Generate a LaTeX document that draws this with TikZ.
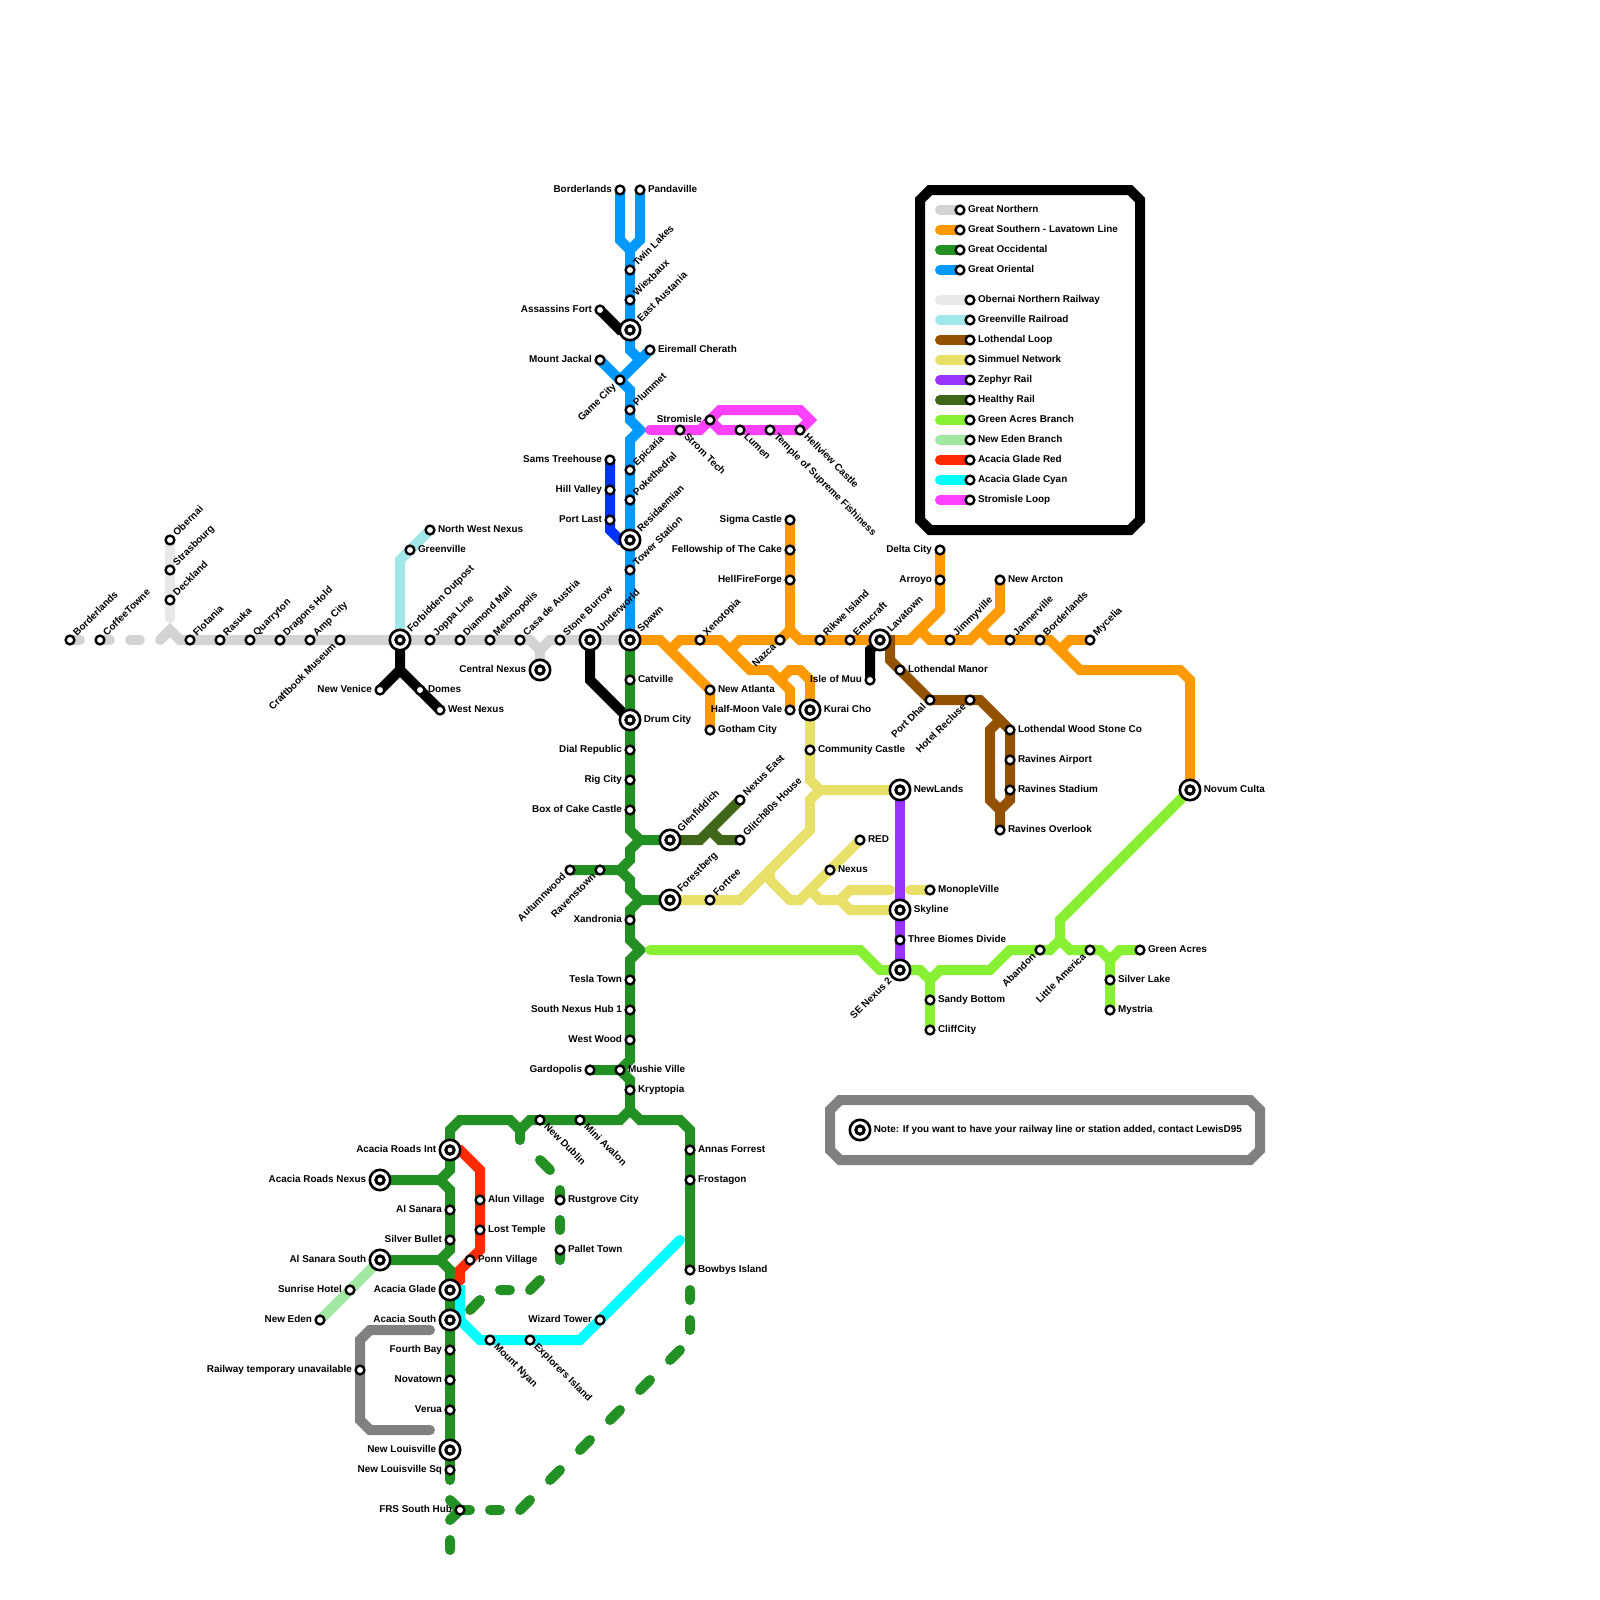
\documentclass[tikz,border=0pt]{standalone}
\usepackage{fontspec}
\setmainfont{Liberation Sans}
\usetikzlibrary{
  positioning,
  backgrounds,
}
\definecolor{northern}{RGB}{211,211,211}
\definecolor{southern}{RGB}{255,153,0}
\definecolor{occidental}{RGB}{34,144,34}
\definecolor{oriental}{RGB}{0,153,255}
\definecolor{obernai}{RGB}{232,232,232}
\definecolor{greenville}{RGB}{160,232,232}
\definecolor{lothendal}{RGB}{148,82,0}
\definecolor{simmuel}{RGB}{232,224,104}
\definecolor{zephyr}{RGB}{153,51,255}
\definecolor{healthy}{RGB}{64,102,24}
\definecolor{greenacres}{RGB}{136,240,51}
\definecolor{neweden}{RGB}{160,232,160}
\definecolor{acaciared}{RGB}{255,42,0}
\definecolor{acaciacyan}{RGB}{0,255,255}
\definecolor{stromisle}{RGB}{255,64,255}
\definecolor{portlast}{RGB}{0,51,255}
\definecolor{framegrey}{RGB}{128,128,128}
\newcommand{\labfont}{\fontsize{4.96}{6}\selectfont\bfseries}
\tikzset{
  stn/.style={
    circle, draw=black, fill=white, line width=1.2pt,
    minimum size=4.4pt, inner sep=0pt, outer sep=0pt
  },
  hub/.style={
    stn, line width=1.3pt, minimum size=10.2pt,
    path picture={\draw[line width=1.5pt, fill=white]
      (path picture bounding box.center) circle (2.1pt);}
  },
  lab/.style={font=\labfont, inner sep=0pt, text height=3.6pt, text depth=1pt},
  labE/.style={lab, right=1.6pt of #1},
  labW/.style={lab, left=1.6pt of #1},
  labNE/.style={lab, inner xsep=1.4pt, rotate=45, anchor=west, at={(#1.45)}},
  labSW/.style={lab, inner xsep=1.4pt, rotate=45, anchor=east, at={(#1.225)}},
  labSE/.style={lab, inner xsep=1.4pt, rotate=-45, anchor=west, at={(#1.-45)}},
  railway/.style={line width=5pt, line cap=round, line join=miter},
}

\begin{document}
\begin{tikzpicture}[x=0.5pt, y=-0.5pt]

  \path[use as bounding box] (0,0) rectangle (1600,1600);

  % ── Great Northern, west to east ──
  \node[stn] (borderlandsW) at (70,640) {};   \node[labNE=borderlandsW] (borderlandsWL) {Borderlands};
  \node[stn] (coffeetowne) at (100,640) {};   \node[labNE=coffeetowne] (coffeetowneL) {CoffeeTowne};
  \node[stn] (flotania) at (190,640) {};      \node[labNE=flotania] (flotaniaL) {Flotania};
  \node[stn] (rasuka) at (220,640) {};        \node[labNE=rasuka] (rasukaL) {Rasuka};
  \node[stn] (quarryton) at (250,640) {};     \node[labNE=quarryton] (quarrytonL) {Quarryton};
  \node[stn] (dragonshold) at (280,640) {};   \node[labNE=dragonshold] (dragonsholdL) {Dragons Hold};
  \node[stn] (ampcity) at (310,640) {};       \node[labNE=ampcity] (ampcityL) {Amp City};
  \node[stn] (craftbook) at (340,640) {};     \node[labSW=craftbook] (craftbookL) {Craftbook Museum};
  \node[hub] (forbidden) at (400,640) {};     \node[labNE=forbidden] (forbiddenL) {Forbidden Outpost};
  \node[stn] (joppa) at (430,640) {};         \node[labNE=joppa] (joppaL) {Joppa Line};
  \node[stn] (diamond) at (460,640) {};       \node[labNE=diamond] (diamondL) {Diamond Mall};
  \node[stn] (melonopolis) at (490,640) {};   \node[labNE=melonopolis] (melonopolisL) {Melonopolis};
  \node[stn] (casa) at (520,640) {};          \node[labNE=casa] (casaL) {Casa de Austria};
  \node[hub] (centralnexus) at (540,670) {};  \node[labW=centralnexus] (centralnexusL) {Central Nexus};
  \node[stn] (stoneburrow) at (560,640) {};   \node[labNE=stoneburrow] (stoneburrowL) {Stone Burrow};
  \node[hub] (underworld) at (590,640) {};    \node[labNE=underworld] (underworldL) {Underworld};
  \node[hub] (spawn) at (630,640) {};         \node[labNE=spawn] (spawnL) {Spawn};

  % ── Obernai, Greenville and the black branches ──
  \node[stn] (obernaiS) at (170,540) {};      \node[labNE=obernaiS] (obernaiSL) {Obernai};
  \node[stn] (strasbourg) at (170,570) {};    \node[labNE=strasbourg] (strasbourgL) {Strasbourg};
  \node[stn] (deckland) at (170,600) {};      \node[labNE=deckland] (decklandL) {Deckland};
  \node[stn] (nwnexus) at (430,530) {};       \node[labE=nwnexus] (nwnexusL) {North West Nexus};
  \node[stn] (greenvilleS) at (410,550) {};   \node[labE=greenvilleS] (greenvilleSL) {Greenville};
  \node[stn] (newvenice) at (380,690) {};     \node[labW=newvenice] (newveniceL) {New Venice};
  \node[stn] (domes) at (420,690) {};         \node[labE=domes] (domesL) {Domes};
  \node[stn] (westnexus) at (440,710) {};     \node[labE=westnexus] (westnexusL) {West Nexus};

  % ── Great Oriental ──
  \node[stn] (borderlandsN) at (620,190) {};  \node[labW=borderlandsN] (borderlandsNL) {Borderlands};
  \node[stn] (pandaville) at (640,190) {};    \node[labE=pandaville] (pandavilleL) {Pandaville};
  \node[stn] (twinlakes) at (630,270) {};     \node[labNE=twinlakes] (twinlakesL) {Twin Lakes};
  \node[stn] (wiexbaux) at (630,300) {};      \node[labNE=wiexbaux] (wiexbauxL) {Wiexbaux};
  \node[stn] (assassins) at (600,310) {};     \node[labW=assassins] (assassinsL) {Assassins Fort};
  \node[hub] (austania) at (630,330) {};      \node[labNE=austania] (austaniaL) {East Austania};
  \node[stn] (eiremall) at (650,350) {};      \node[labE=eiremall] (eiremallL) {Eiremall Cherath};
  \node[stn] (jackal) at (600,360) {};        \node[labW=jackal] (jackalL) {Mount Jackal};
  \node[stn] (gamecity) at (620,380) {};      \node[labSW=gamecity] (gamecityL) {Game City};
  \node[stn] (plummet) at (630,410) {};       \node[labNE=plummet] (plummetL) {Plummet};
  \node[stn] (epicaria) at (630,470) {};      \node[labNE=epicaria] (epicariaL) {Epicaria};
  \node[stn] (pokethedral) at (630,500) {};   \node[labNE=pokethedral] (pokethedralL) {Pokethedral};
  \node[hub] (residaemian) at (630,540) {};   \node[labNE=residaemian] (residaemianL) {Residaemian};
  \node[stn] (tower) at (630,570) {};         \node[labNE=tower] (towerL) {Tower Station};
  \node[stn] (sams) at (610,460) {};          \node[labW=sams] (samsL) {Sams Treehouse};
  \node[stn] (hillvalley) at (610,490) {};    \node[labW=hillvalley] (hillvalleyL) {Hill Valley};
  \node[stn] (portlastS) at (610,520) {};     \node[labW=portlastS] (portlastSL) {Port Last};

  % ── Stromisle Loop ──
  \node[stn] (stromtech) at (680,430) {};     \node[labSE=stromtech] (stromtechL) {Strom Tech};
  \node[stn] (stromisleS) at (710,420) {};    \node[labW=stromisleS] (stromisleSL) {Stromisle};
  \node[stn] (lumen) at (740,430) {};         \node[labSE=lumen] (lumenL) {Lumen};
  \node[stn] (temple) at (770,430) {};        \node[labSE=temple] (templeL) {Temple of Supreme Fishiness};
  \node[stn] (hellview) at (800,430) {};      \node[labSE=hellview] (hellviewL) {Hellview Castle};

  % ── Great Southern ──
  \node[stn] (sigma) at (790,520) {};         \node[labW=sigma] (sigmaL) {Sigma Castle};
  \node[stn] (fellowship) at (790,550) {};    \node[labW=fellowship] (fellowshipL) {Fellowship of The Cake};
  \node[stn] (hellfire) at (790,580) {};      \node[labW=hellfire] (hellfireL) {HellFireForge};
  \node[stn] (xenotopia) at (700,640) {};     \node[labNE=xenotopia] (xenotopiaL) {Xenotopia};
  \node[stn] (nazca) at (780,640) {};         \node[labSW=nazca] (nazcaL) {Nazca};
  \node[stn] (rikwe) at (820,640) {};         \node[labNE=rikwe] (rikweL) {Rikwe Island};
  \node[stn] (emucraft) at (850,640) {};      \node[labNE=emucraft] (emucraftL) {Emucraft};
  \node[hub] (lavatown) at (880,640) {};      \node[labNE=lavatown] (lavatownL) {Lavatown};
  \node[stn] (newatlanta) at (710,690) {};    \node[labE=newatlanta] (newatlantaL) {New Atlanta};
  \node[stn] (gotham) at (710,730) {};        \node[labE=gotham] (gothamL) {Gotham City};
  \node[stn] (halfmoon) at (790,710) {};      \node[labW=halfmoon] (halfmoonL) {Half-Moon Vale};
  \node[hub] (kurai) at (810,710) {};         \node[labE=kurai] (kuraiL) {Kurai Cho};
  \node[stn] (delta) at (940,550) {};         \node[labW=delta] (deltaL) {Delta City};
  \node[stn] (arroyo) at (940,580) {};        \node[labW=arroyo] (arroyoL) {Arroyo};
  \node[stn] (newarcton) at (1000,580) {};    \node[labE=newarcton] (newarctonL) {New Arcton};
  \node[stn] (jimmyville) at (950,640) {};    \node[labNE=jimmyville] (jimmyvilleL) {Jimmyville};
  \node[stn] (jannerville) at (1010,640) {};  \node[labNE=jannerville] (jannervilleL) {Jannerville};
  \node[stn] (borderlandsE) at (1040,640) {}; \node[labNE=borderlandsE] (borderlandsEL) {Borderlands};
  \node[stn] (mycelia) at (1090,640) {};      \node[labNE=mycelia] (myceliaL) {Mycelia};
  \node[hub] (novum) at (1190,790) {};        \node[labE=novum] (novumL) {Novum Culta};

  % ── Lothendal Loop and Isle of Muu ──
  \node[stn] (muu) at (870,680) {};           \node[labW=muu] (muuL) {Isle of Muu};
  \node[stn] (manor) at (900,670) {};         \node[labE=manor] (manorL) {Lothendal Manor};
  \node[stn] (portdhal) at (930,700) {};      \node[labSW=portdhal] (portdhalL) {Port Dhal};
  \node[stn] (recluse) at (970,700) {};       \node[labSW=recluse] (recluseL) {Hotel Recluse};
  \node[stn] (woodstone) at (1010,730) {};    \node[labE=woodstone] (woodstoneL) {Lothendal Wood Stone Co};
  \node[stn] (airport) at (1010,760) {};      \node[labE=airport] (airportL) {Ravines Airport};
  \node[stn] (stadium) at (1010,790) {};      \node[labE=stadium] (stadiumL) {Ravines Stadium};
  \node[stn] (overlook) at (1000,830) {};     \node[labE=overlook] (overlookL) {Ravines Overlook};

  % ── Great Occidental, north part ──
  \node[stn] (catville) at (630,680) {};      \node[labE=catville] (catvilleL) {Catville};
  \node[hub] (drumcity) at (630,720) {};      \node[labE=drumcity] (drumcityL) {Drum City};
  \node[stn] (dial) at (630,750) {};          \node[labW=dial] (dialL) {Dial Republic};
  \node[stn] (rigcity) at (630,780) {};       \node[labW=rigcity] (rigcityL) {Rig City};
  \node[stn] (boxcake) at (630,810) {};       \node[labW=boxcake] (boxcakeL) {Box of Cake Castle};
  \node[hub] (glenfiddich) at (670,840) {};   \node[labNE=glenfiddich] (glenfiddichL) {Glenfiddich};
  \node[stn] (autumnwood) at (570,870) {};    \node[labSW=autumnwood] (autumnwoodL) {Autumnwood};
  \node[stn] (ravenstown) at (600,870) {};    \node[labSW=ravenstown] (ravenstownL) {Ravenstown};
  \node[hub] (forestberg) at (670,900) {};    \node[labNE=forestberg] (forestbergL) {Forestberg};
  \node[stn] (xandronia) at (630,920) {};     \node[labW=xandronia] (xandroniaL) {Xandronia};
  \node[stn] (tesla) at (630,980) {};         \node[labW=tesla] (teslaL) {Tesla Town};
  \node[stn] (southnexus) at (630,1010) {};   \node[labW=southnexus] (southnexusL) {South Nexus Hub 1};
  \node[stn] (westwood) at (630,1040) {};     \node[labW=westwood] (westwoodL) {West Wood};
  \node[stn] (gardopolis) at (590,1070) {};   \node[labW=gardopolis] (gardopolisL) {Gardopolis};
  \node[stn] (mushie) at (620,1070) {};       \node[labE=mushie] (mushieL) {Mushie Ville};
  \node[stn] (kryptopia) at (630,1090) {};    \node[labE=kryptopia] (kryptopiaL) {Kryptopia};

  % ── Healthy Rail and Simmuel Network ──
  \node[stn] (nexuseast) at (740,800) {};     \node[labNE=nexuseast] (nexuseastL) {Nexus East};
  \node[stn] (glitch) at (740,840) {};        \node[labNE=glitch] (glitchL) {Glitch80s House};
  \node[stn] (community) at (810,750) {};     \node[labE=community] (communityL) {Community Castle};
  \node[hub] (newlands) at (900,790) {};      \node[labE=newlands] (newlandsL) {NewLands};
  \node[stn] (fortree) at (710,900) {};       \node[labNE=fortree] (fortreeL) {Fortree};
  \node[stn] (red) at (860,840) {};           \node[labE=red] (redL) {RED};
  \node[stn] (nexus) at (830,870) {};         \node[labE=nexus] (nexusL) {Nexus};
  \node[stn] (monople) at (930,890) {};       \node[labE=monople] (monopleL) {MonopleVille};
  \node[hub] (skyline) at (900,910) {};       \node[labE=skyline] (skylineL) {Skyline};
  \node[stn] (threebiomes) at (900,940) {};   \node[labE=threebiomes] (threebiomesL) {Three Biomes Divide};
  \node[hub] (senexus) at (900,970) {};       \node[labSW=senexus] (senexusL) {SE Nexus 2};

  % ── Green Acres Branch ──
  \node[stn] (sandy) at (930,1000) {};        \node[labE=sandy] (sandyL) {Sandy Bottom};
  \node[stn] (cliffcity) at (930,1030) {};    \node[labE=cliffcity] (cliffcityL) {CliffCity};
  \node[stn] (abandon) at (1040,950) {};      \node[labSW=abandon] (abandonL) {Abandon};
  \node[stn] (littleamerica) at (1090,950) {};\node[labSW=littleamerica] (littleamericaL) {Little America};
  \node[stn] (greenacresS) at (1140,950) {};  \node[labE=greenacresS] (greenacresSL) {Green Acres};
  \node[stn] (silverlake) at (1110,980) {};   \node[labE=silverlake] (silverlakeL) {Silver Lake};
  \node[stn] (mystria) at (1110,1010) {};     \node[labE=mystria] (mystriaL) {Mystria};

  % ── Great Occidental, south part ──
  \node[stn] (newdublin) at (540,1120) {};    \node[labSE=newdublin] (newdublinL) {New Dublin};
  \node[stn] (miniavalon) at (580,1120) {};   \node[labSE=miniavalon] (miniavalonL) {Mini Avalon};
  \node[stn] (annas) at (690,1150) {};        \node[labE=annas] (annasL) {Annas Forrest};
  \node[stn] (frostagon) at (690,1180) {};    \node[labE=frostagon] (frostagonL) {Frostagon};
  \node[stn] (bowbys) at (690,1270) {};       \node[labE=bowbys] (bowbysL) {Bowbys Island};
  \node[stn] (rustgrove) at (560,1200) {};    \node[labE=rustgrove] (rustgroveL) {Rustgrove City};
  \node[stn] (pallet) at (560,1250) {};       \node[labE=pallet] (palletL) {Pallet Town};
  \node[hub] (roadsint) at (450,1150) {};     \node[labW=roadsint] (roadsintL) {Acacia Roads Int};
  \node[hub] (roadsnexus) at (380,1180) {};   \node[labW=roadsnexus] (roadsnexusL) {Acacia Roads Nexus};
  \node[stn] (alsanara) at (450,1210) {};     \node[labW=alsanara] (alsanaraL) {Al Sanara};
  \node[stn] (silverbullet) at (450,1240) {}; \node[labW=silverbullet] (silverbulletL) {Silver Bullet};
  \node[hub] (sanarasouth) at (380,1260) {};  \node[labW=sanarasouth] (sanarasouthL) {Al Sanara South};
  \node[hub] (glade) at (450,1290) {};        \node[labW=glade] (gladeL) {Acacia Glade};
  \node[hub] (acaciasouth) at (450,1320) {};  \node[labW=acaciasouth] (acaciasouthL) {Acacia South};
  \node[stn] (fourthbay) at (450,1350) {};    \node[labW=fourthbay] (fourthbayL) {Fourth Bay};
  \node[stn] (novatown) at (450,1380) {};     \node[labW=novatown] (novatownL) {Novatown};
  \node[stn] (verua) at (450,1410) {};        \node[labW=verua] (veruaL) {Verua};
  \node[hub] (louisville) at (450,1450) {};   \node[labW=louisville] (louisvilleL) {New Louisville};
  \node[stn] (louisvillesq) at (450,1470) {}; \node[labW=louisvillesq] (louisvillesqL) {New Louisville Sq};
  \node[stn] (frs) at (460,1510) {};          \node[labW=frs] (frsL) {FRS South Hub};

  % ── Red, cyan, New Eden and the closed line ──
  \node[stn] (alun) at (480,1200) {};         \node[labE=alun] (alunL) {Alun Village};
  \node[stn] (losttemple) at (480,1230) {};   \node[labE=losttemple] (losttempleL) {Lost Temple};
  \node[stn] (ponn) at (470,1260) {};         \node[labE=ponn] (ponnL) {Ponn Village};
  \node[stn] (nyan) at (490,1340) {};         \node[labSE=nyan] (nyanL) {Mount Nyan};
  \node[stn] (explorers) at (530,1340) {};    \node[labSE=explorers] (explorersL) {Explorers Island};
  \node[stn] (wizard) at (600,1320) {};       \node[labW=wizard] (wizardL) {Wizard Tower};
  \node[stn] (sunrise) at (350,1290) {};      \node[labW=sunrise] (sunriseL) {Sunrise Hotel};
  \node[stn] (newedenS) at (320,1320) {};     \node[labW=newedenS] (newedenSL) {New Eden};
  \node[stn] (unavailable) at (360,1370) {};  \node[labW=unavailable] (unavailableL) {Railway temporary unavailable};

  % ── Legend ──
  \node[stn] (legNorthern) at (960,210) {};   \node[labE=legNorthern] (legNorthernL) {Great Northern};
  \node[stn] (legSouthern) at (960,230) {};   \node[labE=legSouthern] (legSouthernL) {Great Southern - Lavatown Line};
  \node[stn] (legOccidental) at (960,250) {}; \node[labE=legOccidental] (legOccidentalL) {Great Occidental};
  \node[stn] (legOriental) at (960,270) {};   \node[labE=legOriental] (legOrientalL) {Great Oriental};
  \node[stn] (legObernai) at (970,300) {};    \node[labE=legObernai] (legObernaiL) {Obernai Northern Railway};
  \node[stn] (legGreenville) at (970,320) {}; \node[labE=legGreenville] (legGreenvilleL) {Greenville Railroad};
  \node[stn] (legLothendal) at (970,340) {};  \node[labE=legLothendal] (legLothendalL) {Lothendal Loop};
  \node[stn] (legSimmuel) at (970,360) {};    \node[labE=legSimmuel] (legSimmuelL) {Simmuel Network};
  \node[stn] (legZephyr) at (970,380) {};     \node[labE=legZephyr] (legZephyrL) {Zephyr Rail};
  \node[stn] (legHealthy) at (970,400) {};    \node[labE=legHealthy] (legHealthyL) {Healthy Rail};
  \node[stn] (legAcres) at (970,420) {};      \node[labE=legAcres] (legAcresL) {Green Acres Branch};
  \node[stn] (legEden) at (970,440) {};       \node[labE=legEden] (legEdenL) {New Eden Branch};
  \node[stn] (legRed) at (970,460) {};        \node[labE=legRed] (legRedL) {Acacia Glade Red};
  \node[stn] (legCyan) at (970,480) {};       \node[labE=legCyan] (legCyanL) {Acacia Glade Cyan};
  \node[stn] (legStromisle) at (970,500) {};  \node[labE=legStromisle] (legStromisleL) {Stromisle Loop};

  % ── Note ──
  \node[hub] (noteHub) at (860,1130) {};
  \node[labE=noteHub] (noteL) {Note: If you want to have your railway line or station added, contact LewisD95};

  % ── Junctions ──
  \coordinate (jOrange1) at (670,650);
  \coordinate (jOrange2) at (730,650);
  \coordinate (jOrange3) at (780,680);
  \coordinate (jOrange4) at (790,630);
  \coordinate (jOrange5) at (920,630);
  \coordinate (jOrange6) at (980,630);
  \coordinate (jOrange7) at (1060,650);
  \coordinate (jOriental1) at (630,250);
  \coordinate (jOccGlen) at (640,840);
  \coordinate (jOccAutumn) at (620,870);
  \coordinate (jOccForest) at (640,900);
  \coordinate (jOccSouth) at (630,1110);
  \coordinate (jOccRoads) at (440,1180);
  \coordinate (jOccSanara) at (440,1260);
  \coordinate (jBlack) at (400,670);
  \coordinate (jGrey) at (540,650);
  \coordinate (jSim1) at (820,790);
  \coordinate (jSim2) at (770,870);
  \coordinate (jSim3) at (810,890);
  \coordinate (jSim4) at (840,900);
  \coordinate (jHealthy) at (710,830);
  \coordinate (jAcres1) at (930,980);
  \coordinate (jAcres2) at (1060,940);
  \coordinate (jAcres3) at (1110,960);
  \coordinate (jLoth1) at (1000,720);
  \coordinate (jLoth2) at (1000,810);

  \begin{scope}[on background layer]

    % ── Frames ──
    \draw[railway, black] (920,200) -- (930,190) -- (1130,190) -- (1140,200) -- (1140,520) -- (1130,530) -- (930,530) -- (920,520) -- cycle;
    \draw[railway, framegrey] (830,1110) -- (840,1100) -- (1250,1100) -- (1260,1110) -- (1260,1150) -- (1250,1160) -- (840,1160) -- (830,1150) -- cycle;

    % ── Legend stubs ──
    \draw[railway, northern] (legNorthern.center) -- ++(-20,0);
    \draw[railway, southern] (legSouthern.center) -- ++(-20,0);
    \draw[railway, occidental] (legOccidental.center) -- ++(-20,0);
    \draw[railway, oriental] (legOriental.center) -- ++(-20,0);
    \draw[railway, obernai] (legObernai.center) -- ++(-30,0);
    \draw[railway, greenville] (legGreenville.center) -- ++(-30,0);
    \draw[railway, lothendal] (legLothendal.center) -- ++(-30,0);
    \draw[railway, simmuel] (legSimmuel.center) -- ++(-30,0);
    \draw[railway, zephyr] (legZephyr.center) -- ++(-30,0);
    \draw[railway, healthy] (legHealthy.center) -- ++(-30,0);
    \draw[railway, greenacres] (legAcres.center) -- ++(-30,0);
    \draw[railway, neweden] (legEden.center) -- ++(-30,0);
    \draw[railway, acaciared] (legRed.center) -- ++(-30,0);
    \draw[railway, acaciacyan] (legCyan.center) -- ++(-30,0);
    \draw[railway, stromisle] (legStromisle.center) -- ++(-30,0);

    % ── Obernai and Greenville ──
    \draw[railway, obernai] (obernaiS.center) -- ++(0,78);
    \draw[railway, greenville] (forbidden.center) -- (400,560) -- (nwnexus.center);

    % ── Great Northern ──
    \draw[railway, northern, dash pattern=on 5pt off 10pt] (borderlandsW.center) -- ++(70,0);
    \draw[railway, northern] (160,640) -- (170,630) -- (180,640) -- (530,640) -- (jGrey) -- (550,640) -- (spawn.center);
    \draw[railway, northern] (jGrey) -- (centralnexus.center);

    % ── Black branches ──
    \draw[railway, black] (forbidden.center) -- (jBlack) -- (westnexus.center);
    \draw[railway, black] (jBlack) -- (newvenice.center);
    \draw[railway, black] (assassins.center) -- (620,330) -- (austania.center);
    \draw[railway, black] (underworld.center) -- (590,680) -- (drumcity.center);
    \draw[railway, black] (lavatown.center) -- (870,650) -- (muu.center);

    % ── Great Occidental ──
    \draw[railway, occidental] (spawn.center) -- (630,830) -- (jOccGlen) -- (glenfiddich.center);
    \draw[railway, occidental] (jOccGlen) -- (630,850) -- (630,860) -- (jOccAutumn) -- (autumnwood.center);
    \draw[railway, occidental] (jOccAutumn) -- (630,880) -- (630,890) -- (jOccForest) -- (forestberg.center);
    \draw[railway, occidental] (jOccForest) -- (630,910) -- (630,940) -- (640,950) -- (630,960) -- (630,1060) -- (mushie.center) -- (gardopolis.center);
    \draw[railway, occidental] (mushie.center) -- (630,1080) -- (jOccSouth) -- (640,1120) -- (680,1120) -- (690,1130) -- (bowbys.center);
    \draw[railway, occidental] (jOccSouth) -- (620,1120) -- (530,1120) -- (520,1130) -- (510,1120) -- (460,1120) -- (450,1130) -- (450,1170) -- (jOccRoads) -- (roadsnexus.center);
    \draw[railway, occidental] (jOccRoads) -- (450,1190) -- (450,1250) -- (jOccSanara) -- (sanarasouth.center);
    \draw[railway, occidental] (jOccSanara) -- (450,1270) -- (louisvillesq.center) -- ++(0,10);

    % ── Great Occidental, line under construction ──
    \draw[railway, occidental]
      (520,1130) -- (520,1140)
      (540,1160) -- (550,1170)
      (560,1190) -- (rustgrove.center)
      (560,1220) -- (560,1230)
      (pallet.center) -- (560,1260)
      (540,1280) -- (530,1290)
      (510,1290) -- (500,1290)
      (480,1300) -- (470,1310);
    \draw[railway, occidental]
      (690,1290) -- (690,1300)
      (690,1320) -- (690,1330)
      (680,1350) -- (670,1360)
      (650,1380) -- (640,1390)
      (620,1410) -- (610,1420)
      (590,1440) -- (580,1450)
      (560,1470) -- (550,1480)
      (530,1500) -- (520,1510)
      (500,1510) -- (490,1510)
      (470,1510) -- (frs.center) -- (450,1500)
      (frs.center) -- (450,1520)
      (450,1540) -- (450,1550);

    % ── Great Oriental ──
    \draw[railway, oriental] (borderlandsN.center) -- (620,240) -- (jOriental1) -- (640,240) -- (pandaville.center);
    \draw[railway, oriental] (jOriental1) -- (630,350) -- (640,360);
    \draw[railway, oriental] (eiremall.center) -- (gamecity.center);
    \draw[railway, oriental] (jackal.center) -- (630,390) -- (630,420) -- (640,430) -- (630,440) -- (spawn.center);
    \draw[railway, portlast] (sams.center) -- (610,530) -- (620,540) -- (residaemian.center);

    % ── Stromisle Loop ──
    \draw[railway, stromisle] (650,430) -- (700,430) -- (720,410) -- (800,410) -- (810,420) -- (800,430) -- (720,430) -- (stromisleS.center);

    % ── Great Southern ──
    \draw[railway, southern] (spawn.center) -- (660,640) -- (newatlanta.center) -- (gotham.center);
    \draw[railway, southern] (jOrange1) -- (680,640) -- (720,640) -- (750,670) -- (770,670) -- (790,690) -- (halfmoon.center);
    \draw[railway, southern] (jOrange2) -- (740,640) -- (nazca.center) -- (jOrange4) -- (sigma.center);
    \draw[railway, southern] (jOrange4) -- (800,640) -- (910,640) -- (940,610) -- (delta.center);
    \draw[railway, southern] (jOrange3) -- (790,670) -- (800,670) -- (810,680) -- (kurai.center);
    \draw[railway, southern] (jOrange5) -- (930,640) -- (970,640) -- (1000,610) -- (newarcton.center);
    \draw[railway, southern] (jOrange6) -- (990,640) -- (1050,640) -- (1080,670) -- (1180,670) -- (1190,680) -- (novum.center);
    \draw[railway, southern] (jOrange7) -- (1070,640) -- (mycelia.center);

    % ── Lothendal Loop ──
    \draw[railway, lothendal] (lavatown.center) -- (890,640) -- (890,660) -- (portdhal.center) -- (980,700) -- (woodstone.center) -- (1010,800) -- (jLoth2) -- (overlook.center);
    \draw[railway, lothendal] (jLoth1) -- (990,730) -- (990,800) -- (jLoth2);

    % ── Simmuel Network ──
    \draw[railway, simmuel] (kurai.center) -- (810,780) -- (jSim1) -- (newlands.center);
    \draw[railway, simmuel] (jSim1) -- (810,800) -- (810,830) -- (740,900) -- (forestberg.center);
    \draw[railway, simmuel] (jSim2) -- (770,880) -- (790,900) -- (800,900) -- (red.center);
    \draw[railway, simmuel] (jSim3) -- (820,900) -- (jSim4) -- (850,910) -- (skyline.center);
    \draw[railway, simmuel] (jSim4) -- (850,890) -- (890,890);
    \draw[railway, simmuel] (910,890) -- (monople.center);

    % ── Healthy Rail ──
    \draw[railway, healthy] (glenfiddich.center) -- (700,840) -- (nexuseast.center);
    \draw[railway, healthy] (jHealthy) -- (720,840) -- (glitch.center);

    % ── Zephyr Rail ──
    \draw[railway, zephyr] (newlands.center) -- (senexus.center);

    % ── Green Acres Branch ──
    \draw[railway, greenacres] (650,950) -- (860,950) -- (880,970) -- (920,970) -- (jAcres1) -- (940,970) -- (990,970) -- (1010,950) -- (1050,950) -- (jAcres2) -- (1060,920) -- (novum.center);
    \draw[railway, greenacres] (jAcres1) -- (cliffcity.center);
    \draw[railway, greenacres] (jAcres2) -- (1070,950) -- (1100,950) -- (jAcres3) -- (1120,950) -- (greenacresS.center);
    \draw[railway, greenacres] (jAcres3) -- (mystria.center);

    % ── New Eden Branch ──
    \draw[railway, neweden] (sanarasouth.center) -- (newedenS.center);

    % ── Closed line ──
    \draw[railway, framegrey] (430,1330) -- (370,1330) -- (360,1340) -- (360,1420) -- (370,1430) -- (430,1430);

    % ── Acacia Glade Red and Cyan ──
    \draw[railway, acaciared] (roadsint.center) -- (460,1150) -- (480,1170) -- (480,1250) -- (460,1270) -- (460,1280) -- (glade.center);
    \draw[railway, acaciacyan] (glade.center) -- (460,1290) -- (460,1320) -- (480,1340) -- (580,1340) -- (680,1240);

  \end{scope}

\end{tikzpicture}
\end{document}
